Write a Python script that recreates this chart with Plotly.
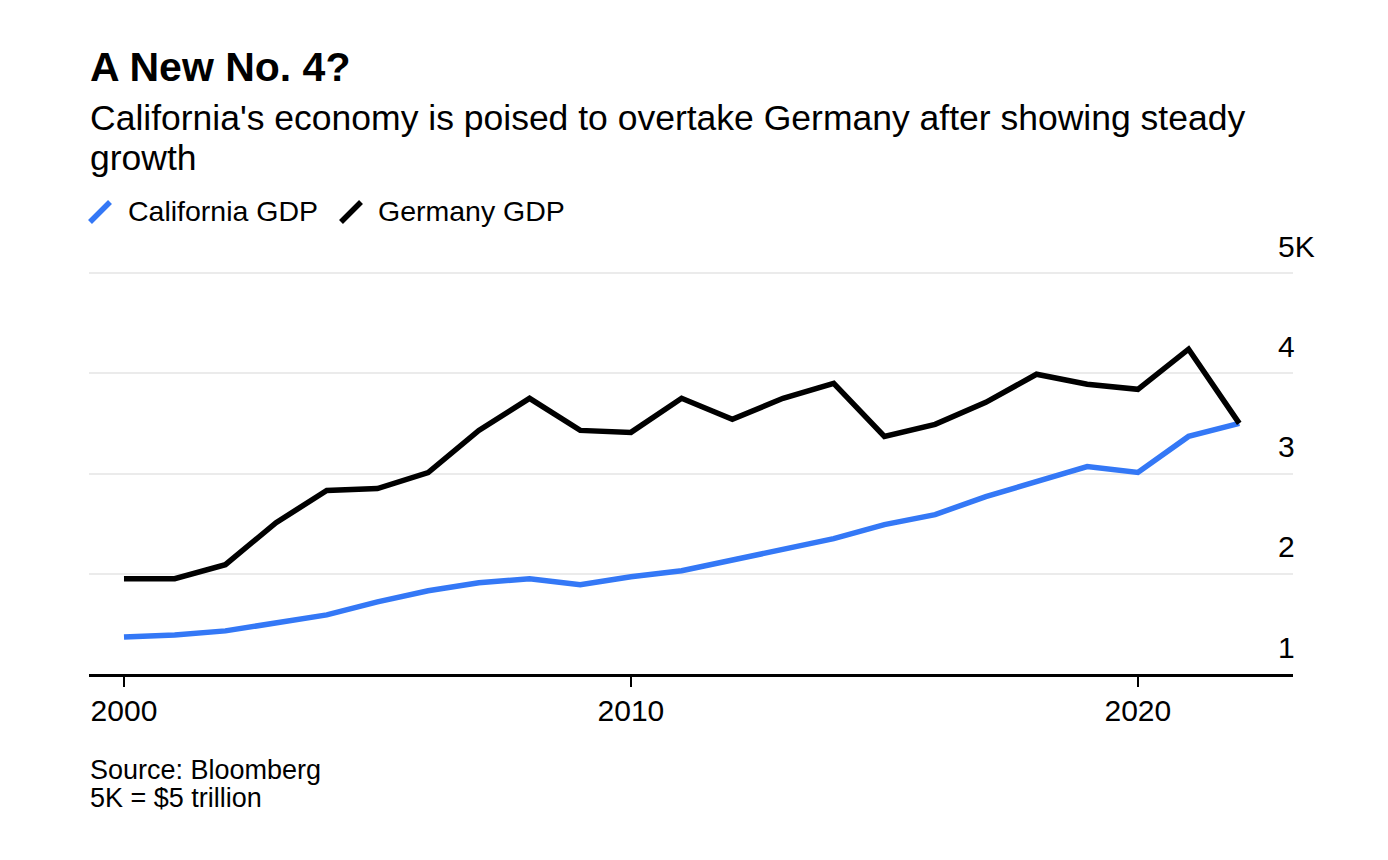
import plotly.graph_objects as go

years = list(range(2000, 2023))
california_gdp = [1.37, 1.39, 1.43, 1.51, 1.59, 1.72, 1.83, 1.91, 1.95, 1.89, 1.97, 2.03,
                  2.14, 2.24, 2.35, 2.49, 2.59, 2.77, 2.92, 3.07, 3.01, 3.37, 3.50]
germany_gdp = [1.95, 1.95, 2.09, 2.51, 2.83, 2.85, 3.01, 3.43, 3.75, 3.43, 3.41, 3.75,
               3.54, 3.75, 3.90, 3.37, 3.49, 3.71, 3.99, 3.89, 3.84, 4.24, 3.50]
x_tickvals = [2000, 2010, 2020]
y_tickvals = [1, 2, 3, 4, 5]
y_ticktext = ["1", "2", "3", "4", "5K"]

BLUE = "#3478f6"
FONT = "Liberation Sans, Arial, Helvetica, sans-serif"

OFF = 8  # default page body margin
W, H = 1372, 844
Y_MAX = 5.03
# plot area in screen pixels of the reference
SL, SR, SB = 89, 1293, 674
PX_PER_UNIT = 100.25
ST = SB - (Y_MAX - 1) * PX_PER_UNIT
L, R, T, B = SL - OFF, SR - OFF, ST - OFF, SB - OFF


def px(x):
    return (x - SL) / (SR - SL)


def py(y):
    return (SB - y) / (SB - ST)


fig = go.Figure()
fig.add_trace(go.Scatter(x=years, y=california_gdp, mode="lines", name="California GDP",
                         line=dict(color=BLUE, width=5.5), showlegend=False))
fig.add_trace(go.Scatter(x=years, y=germany_gdp, mode="lines", name="Germany GDP",
                         line=dict(color="#000000", width=5.5), showlegend=False))

annotations = [
    dict(text="<b>A New No. 4?</b>", x=px(88), y=py(67), font=dict(size=41, color="#000")),
    dict(text="California's economy is poised to overtake Germany after showing steady",
         x=px(88), y=py(118), font=dict(size=35.5, color="#000")),
    dict(text="growth", x=px(88), y=py(158), font=dict(size=35.5, color="#000")),
    dict(text="California GDP", x=px(126), y=py(211), font=dict(size=28.5, color="#000")),
    dict(text="Germany GDP", x=px(376), y=py(211), font=dict(size=28.5, color="#000")),
    dict(text="Source: Bloomberg", x=px(88), y=py(770), font=dict(size=27, color="#000")),
    dict(text="5K = $5 trillion", x=px(88), y=py(798), font=dict(size=27, color="#000")),
]
for a in annotations:
    a.update(xref="paper", yref="paper", xanchor="left", yanchor="middle",
             showarrow=False, align="left")

shapes = [
    dict(type="line", xref="paper", yref="paper", x0=px(90), y0=py(222), x1=px(110), y1=py(202),
         line=dict(color=BLUE, width=5.5)),
    dict(type="line", xref="paper", yref="paper", x0=px(341), y0=py(222), x1=px(361), y1=py(202),
         line=dict(color="#000", width=5.5)),
]

fig.update_layout(
    width=W, height=H,
    margin=dict(l=L, r=W - R, t=T, b=H - B, pad=0),
    paper_bgcolor="white", plot_bgcolor="white",
    font=dict(family=FONT, color="#000"),
    annotations=annotations,
    shapes=shapes,
    showlegend=False,
)
fig.update_xaxes(
    range=[1999.31, 2023.06], tickvals=x_tickvals, ticktext=[str(v) for v in x_tickvals],
    showgrid=False, zeroline=False, showline=True, linecolor="#000", linewidth=3,
    ticks="outside", ticklen=10, tickwidth=1.5, tickcolor="#000",
    ticklabelstandoff=-2,
    tickfont=dict(size=30, color="#000"),
)
fig.update_yaxes(
    range=[1, Y_MAX], tickvals=y_tickvals, ticktext=y_ticktext, side="right",
    showgrid=True, gridcolor="#ebebeb", gridwidth=2, zeroline=False, showline=False,
    ticks="", ticklabelposition="outside top", ticklabelstandoff=-16, ticklabelshift=-6,
    tickfont=dict(size=30, color="#000"),
)

fig.write_html("out.html")
